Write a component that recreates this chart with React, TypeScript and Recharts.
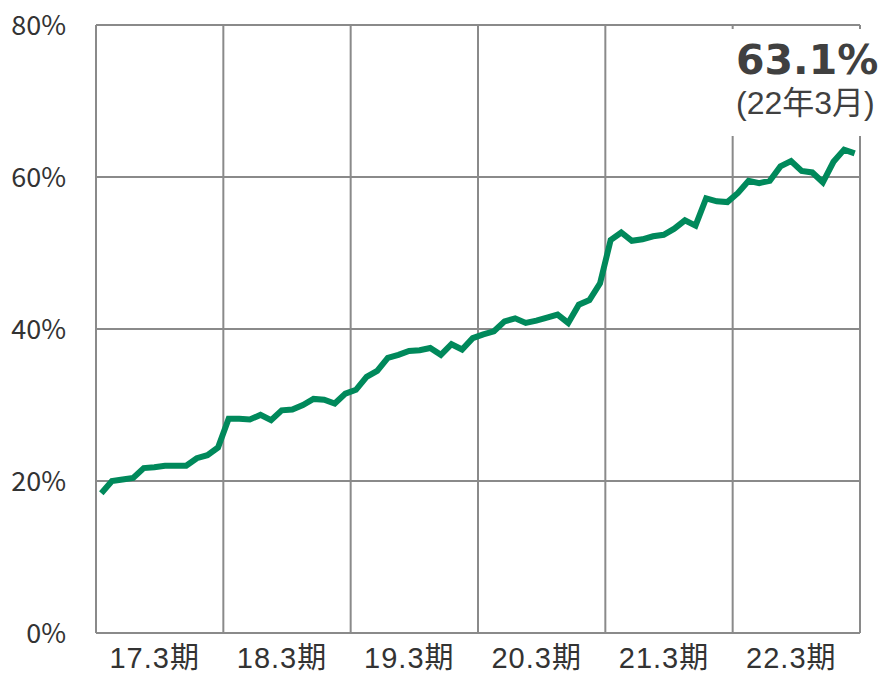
import { LineChart, Line, XAxis, YAxis, CartesianGrid } from "recharts";

const GREEN = "#00895B";
const GRID = "#8A8A8A";
const TEXT = "#333333";
const LABEL = "#404040";
const FONT = '"Noto Sans CJK JP", "Noto Sans", sans-serif';
const LATIN_FIRST = '"Liberation Sans", "Noto Sans CJK JP", sans-serif';

// one label per fiscal period (12 months each)
const periodLabels = ["17.3期", "18.3期", "19.3期", "20.3期", "21.3期", "22.3期"];
const yTicks = [0, 20, 40, 60, 80];

// monthly share (%), Apr 2016 .. Mar 2022
const share17 = [18.4, 20.0, 20.2, 20.4, 21.7, 21.8, 22.0, 22.0, 22.0, 23.0, 23.4, 24.4];
const share18 = [28.2, 28.2, 28.1, 28.7, 28.0, 29.3, 29.4, 30.0, 30.8, 30.7, 30.2, 31.5];
const share19 = [32.0, 33.7, 34.5, 36.2, 36.6, 37.1, 37.2, 37.5, 36.6, 38.0, 37.3, 38.8];
const share20 = [39.3, 39.7, 41.0, 41.4, 40.8, 41.1, 41.5, 41.9, 40.8, 43.2, 43.8, 46.0];
const share21 = [51.7, 52.7, 51.6, 51.8, 52.2, 52.4, 53.2, 54.3, 53.6, 57.2, 56.8, 56.7];
const share22 = [57.9, 59.5, 59.2, 59.5, 61.4, 62.1, 60.8, 60.6, 59.3, 62.0, 63.6, 63.1];

const shares = [...share17, ...share18, ...share19, ...share20, ...share21, ...share22];
const data = shares.map((v, i) => ({ m: i + 0.5, v }));

const labelTicks = periodLabels.map((_, i) => i * 12 + 6);
const boundaries = periodLabels.map((_, i) => i * 12).concat(72);

export default function App() {
  return (
    <div style={{ position: "absolute", left: 0, top: 0, width: 882, height: 677, background: "#fff" }}>
      <LineChart width={882} height={677} data={data} margin={{ top: 25, right: 22, bottom: 0, left: 0 }}>
        <CartesianGrid
          stroke={GRID}
          strokeWidth={2}
          verticalValues={boundaries}
          horizontalValues={yTicks}
        />
        <XAxis
          dataKey="m"
          type="number"
          domain={[0, 72]}
          ticks={labelTicks}
          tickFormatter={(v: number) => periodLabels[Math.floor(v / 12)]}
          axisLine={false}
          tickLine={false}
          tickSize={0}
          tickMargin={14}
          height={44}
          interval={0}
          tick={{ fill: TEXT, fontSize: 29, fontFamily: LATIN_FIRST, letterSpacing: 1, dx: -5 }}
        />
        <YAxis
          domain={[0, 80]}
          ticks={yTicks}
          tickFormatter={(v: number) => `${v}%`}
          axisLine={false}
          tickLine={false}
          tickSize={0}
          tickMargin={30}
          width={96}
          tick={{ fill: TEXT, fontSize: 27, fontFamily: FONT }}
        />
        <Line
          dataKey="v"
          stroke={GREEN}
          strokeWidth={6}
          dot={false}
          activeDot={false}
          isAnimationActive={false}
        />
      </LineChart>
      <div
        style={{
          position: "absolute",
          left: 726,
          top: 29,
          width: 152,
          height: 107,
          background: "#fff",
          color: LABEL,
        }}
      >
        <div
          style={{
            position: "absolute",
            left: 10,
            top: 14,
            fontFamily: '"DejaVu Sans", sans-serif',
            fontWeight: 700,
            fontSize: 41,
            lineHeight: "34px",
            whiteSpace: "nowrap",
          }}
        >
          63.1%
        </div>
        <div
          style={{
            position: "absolute",
            left: 10,
            top: 58,
            fontFamily: LATIN_FIRST,
            fontSize: 32,
            lineHeight: "32px",
            whiteSpace: "nowrap",
          }}
        >
          (22年3月)
        </div>
      </div>
    </div>
  );
}
